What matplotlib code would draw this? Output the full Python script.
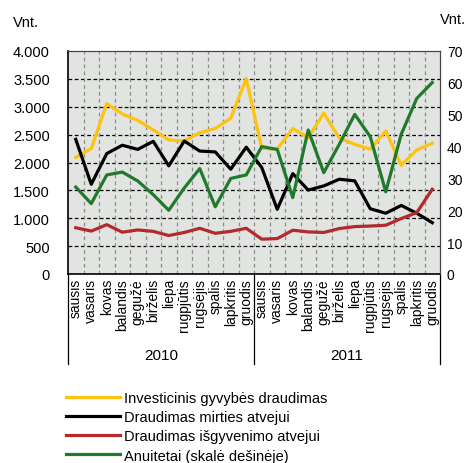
import matplotlib
matplotlib.use('Agg')
import matplotlib.pyplot as plt
from matplotlib.lines import Line2D
from matplotlib.ticker import FuncFormatter

plt.rcParams['font.family'] = ['Liberation Sans Narrow', 'Liberation Sans', 'DejaVu Sans']

# Mėnesiai ir metai
menesiai = ['sausis', 'vasaris', 'kovas', 'balandis', 'gegužė', 'birželis',
            'liepa', 'rugpjūtis', 'rugsėjis', 'spalis', 'lapkritis', 'gruodis']
metai = ['2010', '2011']

# Sutarčių skaičius, vnt.
investicinis = [2090, 2250, 3055, 2870, 2755, 2585, 2405, 2385, 2535, 2610, 2795, 3505,
                2255, 2240, 2610, 2445, 2885, 2440, 2325, 2240, 2565, 1950, 2225, 2345]
mirties = [2415, 1610, 2160, 2310, 2235, 2380, 1940, 2385, 2205, 2190, 1880, 2275,
           1910, 1160, 1800, 1505, 1580, 1700, 1670, 1170, 1090, 1230, 1090, 920]
isgyvenimo = [830, 770, 885, 750, 790, 765, 690, 745, 820, 730, 765, 820,
              625, 635, 785, 755, 745, 815, 850, 860, 875, 995, 1100, 1520]
# Anuitetai - dešinioji skalė
anuitetai = [27.3, 22.1, 31.1, 32.0, 29.2, 24.9, 20.0, 27.0, 33.1, 21.1, 30.0, 31.1,
             40.0, 39.1, 24.0, 45.2, 31.8, 40.7, 50.1, 43.1, 25.8, 43.9, 55.1, 60.1]

spalvos = ['#ffc20e', '#000000', '#b22a2a', '#217a2c']
pavadinimai = ['Investicinis gyvybės draudimas', 'Draudimas mirties atvejui',
               'Draudimas išgyvenimo atvejui', 'Anuitetai (skalė dešinėje)']

W, H = 466, 464
fig = plt.figure(figsize=(W / 100, H / 100), dpi=100)
ax = fig.add_axes([68 / W, 1 - 275 / H, (440 - 68) / W, (275 - 52) / H])
ax2 = ax.twinx()

n = len(menesiai) * len(metai)
x = list(range(n))
lw = 2.3

ax.set_facecolor('#e1e4e0')
ax.plot(x, investicinis, color=spalvos[0], lw=lw, zorder=3)
ax.plot(x, mirties, color=spalvos[1], lw=lw, zorder=3)
ax.plot(x, isgyvenimo, color=spalvos[2], lw=lw, zorder=3)
ax2.plot(x, anuitetai, color=spalvos[3], lw=lw, zorder=3)

ax.set_xlim(-0.5, n - 0.5)
ax.set_ylim(0, 4000)
ax2.set_ylim(0, 70)
ax.set_yticks(range(0, 4001, 500))
ax2.set_yticks(range(0, 71, 10))
ax.yaxis.set_major_formatter(FuncFormatter(lambda v, p: f'{int(v):,}'.replace(',', '.')))

# tinklelis
for v in range(500, 4000, 500):
    ax.axhline(v, color='black', lw=0.9, ls=(0, (3, 2)), zorder=1)
for i in range(1, n):
    ax.axvline(i - 0.5, color='#8c8c8c', lw=0.9, ls=(0, (3, 2.5)), zorder=1)

ax.set_xticks(x)
ax.set_xticklabels([])
ax.tick_params(axis='x', length=0)
ax.tick_params(axis='y', length=0, pad=13, labelsize=10.5)
ax2.tick_params(axis='y', length=0, pad=5, labelsize=10)

for s in ['left', 'bottom']:
    ax.spines[s].set_color('black')
    ax.spines[s].set_linewidth(1.2)
for a in (ax, ax2):
    a.spines['top'].set_linestyle((0, (2, 1)))
    a.spines['top'].set_color('#444444')
    a.spines['right'].set_color('#444444')
    a.spines['left'].set_visible(a is ax)
    a.spines['bottom'].set_visible(a is ax)

# mėnesių ir metų pavadinimai
for i in range(n):
    ax.text(i, -0.018, menesiai[i % 12], rotation=90, ha='center', va='top',
            fontsize=10, transform=ax.get_xaxis_transform())
for j, m in enumerate(metai):
    ax.text(j * 12 + 5.5, -0.363, m, ha='center', va='center', fontsize=11,
            transform=ax.get_xaxis_transform())
for k in range(len(metai) + 1):
    ax.add_line(Line2D([k * 12 - 0.5] * 2, [0, -0.404], color='black', lw=0.9,
                       transform=ax.get_xaxis_transform(), clip_on=False))

fig.text(13 / W, 1 - 23 / H, 'Vnt.', fontsize=10.5, va='center')
fig.text(440 / W, 1 - 20 / H, 'Vnt.', fontsize=10.5, va='center')

rankenos = [Line2D([], [], color=c, lw=2.3) for c in spalvos]
fig.legend(rankenos, pavadinimai, loc='upper left', bbox_to_anchor=(60 / W, 1 - 386 / H),
           frameon=False, fontsize=10.5, handlelength=3.7, handletextpad=0.3,
           labelspacing=0.36, borderaxespad=0)

fig.savefig('out.png', dpi=100)
